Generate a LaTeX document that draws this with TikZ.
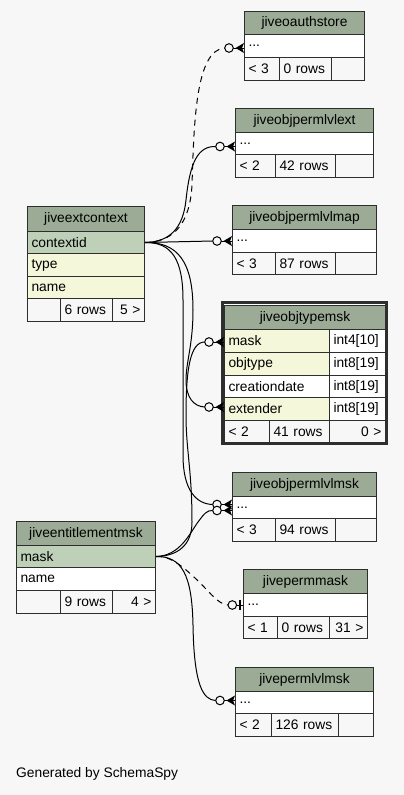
\documentclass[tikz,border=0pt]{standalone}
\usepackage{fontspec}
\setmainfont{Liberation Sans}
\usetikzlibrary{calc}
\definecolor{bgc}{HTML}{F7F7F7}
\definecolor{hd}{HTML}{9BAB96}
\definecolor{pk}{HTML}{BED1B8}
\definecolor{col}{HTML}{F4F7DA}
\definecolor{bd}{HTML}{2E2E2E}
\definecolor{ink}{HTML}{000000}
\tikzset{
  cell/.style={draw=bd, line width=1pt, anchor=north west, inner xsep=4pt, inner ysep=0pt},
  conn/.style={draw=ink, line width=1pt},
  dashconn/.style={conn, dash pattern=on 6pt off 5pt},
}
% name, x1, y1, x2, y2, fill, align, text
\newcommand\tcell[8]{%
  \pgfmathsetmacro\tcW{#4-#2}%
  \pgfmathsetmacro\tcH{#5-#3}%
  \pgfmathsetmacro\tcT{#4-#2-8}%
  \node[cell, fill=#6, minimum width=\tcW pt, minimum height=\tcH pt, text width=\tcT pt, align=#7] (#1) at (#2,#3) {#8};}
% crow foot + circle at table edge point #1
\newcommand\crowend[1]{%
  \fill[ink] ($(#1)+(-8.5,0)$) -- ($(#1)+(0,-5)$) -- ($(#1)+(-2,0)$) -- ($(#1)+(0,5)$) -- cycle;
  \draw[ink, line width=1pt] ($(#1)+(-10.7,0)$) -- (#1);
  \draw[ink, line width=1pt, fill=bgc] ($(#1)+(-15,0)$) circle (4.3pt);}
\newcommand\oneend[1]{%
  \draw[ink, line width=1pt] ($(#1)+(-6.5,0)$) -- (#1);
  \draw[ink, line width=2.2pt] ($(#1)+(-3,-5)$) -- ($(#1)+(-3,5)$);
  \draw[ink, line width=1pt, fill=bgc] ($(#1)+(-10.7,0)$) circle (4.3pt);}
\begin{document}
\begin{tikzpicture}[x=1pt, y=-1pt, font=\fontsize{13.8}{16}\selectfont]
\fill[bgc] (0,0) rectangle (404,795);
\useasboundingbox (0,0) rectangle (404,795);

% jiveoauthstore
\tcell{oa-h}{244}{11}{364}{34}{hd}{center}{jiveoauthstore}
\tcell{oa-r}{244}{34}{364}{57}{white}{left}{...}
\tcell{oa-f1}{244}{57}{279}{80}{bgc}{left}{< 3}
\tcell{oa-f2}{279}{57}{331}{80}{bgc}{left}{0 rows}
\tcell{oa-f3}{331}{57}{364}{80}{bgc}{left}{}

% jiveobjpermlvlext
\tcell{ext-h}{235}{108}{373}{132}{hd}{center}{jiveobjpermlvlext}
\tcell{ext-r}{235}{132}{373}{154}{white}{left}{...}
\tcell{ext-f1}{235}{154}{275}{177}{bgc}{left}{< 2}
\tcell{ext-f2}{275}{154}{335}{177}{bgc}{left}{42 rows}
\tcell{ext-f3}{335}{154}{373}{177}{bgc}{left}{}

% jiveextcontext
\tcell{ctx-h}{27}{206}{144}{231}{hd}{center}{jiveextcontext}
\tcell{ctx-id}{27}{231}{144}{253}{pk}{left}{contextid}
\tcell{ctx-type}{27}{253}{144}{276}{col}{left}{type}
\tcell{ctx-name}{27}{276}{144}{298}{col}{left}{name}
\tcell{ctx-f1}{27}{298}{60}{321}{bgc}{left}{}
\tcell{ctx-f2}{60}{298}{112}{321}{bgc}{left}{6 rows}
\tcell{ctx-f3}{112}{298}{144}{321}{bgc}{right}{5 >}

% jiveobjpermlvlmap
\tcell{map-h}{232}{205}{376}{229}{hd}{center}{jiveobjpermlvlmap}
\tcell{map-r}{232}{229}{376}{252}{white}{left}{...}
\tcell{map-f1}{232}{252}{275}{274}{bgc}{left}{< 3}
\tcell{map-f2}{275}{252}{335}{274}{bgc}{left}{87 rows}
\tcell{map-f3}{335}{252}{376}{274}{bgc}{left}{}

% jiveobjtypemsk
\draw[bd, line width=2.6pt, fill=white] (222.3,302.3) rectangle (386.7,443.7);
\tcell{ts-h}{224}{305}{385}{329}{hd}{center}{jiveobjtypemsk}
\tcell{ts-mask}{224}{329}{329}{352}{col}{left}{mask}
\tcell{ts-mask-t}{329}{329}{385}{352}{white}{left}{int4[10]}
\tcell{ts-obj}{224}{352}{329}{375}{col}{left}{objtype}
\tcell{ts-obj-t}{329}{352}{385}{375}{white}{left}{int8[19]}
\tcell{ts-cd}{224}{375}{329}{397}{white}{left}{creationdate}
\tcell{ts-cd-t}{329}{375}{385}{397}{white}{left}{int8[19]}
\tcell{ts-ext}{224}{397}{329}{420}{col}{left}{extender}
\tcell{ts-ext-t}{329}{397}{385}{420}{white}{left}{int8[19]}
\tcell{ts-f1}{224}{420}{269}{442}{bgc}{left}{< 2}
\tcell{ts-f2}{269}{420}{329}{442}{bgc}{left}{41 rows}
\tcell{ts-f3}{329}{420}{385}{442}{bgc}{right}{0 >}

% jiveobjpermlvlmsk
\tcell{pms-h}{232}{472}{376}{496}{hd}{center}{jiveobjpermlvlmsk}
\tcell{pms-r}{232}{496}{376}{518}{white}{left}{...}
\tcell{pms-f1}{232}{518}{275}{541}{bgc}{left}{< 3}
\tcell{pms-f2}{275}{518}{335}{541}{bgc}{left}{94 rows}
\tcell{pms-f3}{335}{518}{376}{541}{bgc}{left}{}

% jiveentitlementmsk
\tcell{ent-h}{16}{521}{155}{545}{hd}{center}{jiveentitlementmsk}
\tcell{ent-mask}{16}{545}{155}{567}{pk}{left}{mask}
\tcell{ent-name}{16}{567}{155}{590}{white}{left}{name}
\tcell{ent-f1}{16}{590}{60}{613}{bgc}{left}{}
\tcell{ent-f2}{60}{590}{112}{613}{bgc}{left}{9 rows}
\tcell{ent-f3}{112}{590}{155}{613}{bgc}{right}{4 >}

% jivepermmask
\tcell{pm-h}{243}{569}{367}{593}{hd}{center}{jivepermmask}
\tcell{pm-r}{243}{593}{367}{616}{white}{left}{...}
\tcell{pm-f1}{243}{616}{277}{638}{bgc}{left}{< 1}
\tcell{pm-f2}{277}{616}{329}{638}{bgc}{left}{0 rows}
\tcell{pm-f3}{329}{616}{367}{638}{bgc}{right}{31 >}

% jivepermlvlmsk
\tcell{plm-h}{235}{667}{373}{691}{hd}{center}{jivepermlvlmsk}
\tcell{plm-r}{235}{691}{373}{713}{white}{left}{...}
\tcell{plm-f1}{235}{713}{271}{736}{bgc}{left}{< 2}
\tcell{plm-f2}{271}{713}{338}{736}{bgc}{left}{126 rows}
\tcell{plm-f3}{338}{713}{373}{736}{bgc}{left}{}

\node[anchor=base west, inner sep=0pt] (credit) at (16,777) {Generated by SchemaSpy};

% attachment points on table edges
\coordinate (oa-e) at ($(oa-r.west)+(0,2)$);
\coordinate (ext-e) at ($(ext-r.west)+(0,3)$);
\coordinate (map-e) at (map-r.west);
\coordinate (tsm-e) at ($(ts-mask.west)+(0,1)$);
\coordinate (tse-e) at ($(ts-ext.west)+(0,-2)$);
\coordinate (pmsa-e) at ($(pms-r.west)+(0,-3)$);
\coordinate (pmsb-e) at ($(pms-r.west)+(0,3)$);
\coordinate (pm-e) at (pm-r.west);
\coordinate (plm-e) at ($(plm-r.west)+(0,-2)$);
% connector ends (outer side of the circles)
\coordinate (oa-in) at ($(oa-e)+(-19.3,0)$);
\coordinate (ext-in) at ($(ext-e)+(-19.3,0)$);
\coordinate (map-in) at ($(map-e)+(-19.3,0)$);
\coordinate (tsm-in) at ($(tsm-e)+(-19.3,0)$);
\coordinate (tse-in) at ($(tse-e)+(-19.3,0)$);
\coordinate (pmsa-in) at ($(pmsa-e)+(-19.3,0)$);
\coordinate (pmsb-in) at ($(pmsb-e)+(-19.3,0)$);
\coordinate (pm-in) at ($(pm-e)+(-15,0)$);
\coordinate (plm-in) at ($(plm-e)+(-19.3,0)$);

% connectors from jiveextcontext.contextid
\draw[dashconn] (ctx-id.east) .. controls (175,242) and (190,222) .. (192,185) .. controls (194,120) and (196,50) .. (oa-in);
\draw[conn] (ctx-id.east) .. controls (170,242) and (183,228) .. (186,200) .. controls (190,162) and (198,146) .. (ext-in);
\draw[conn] (ctx-id.east) -- (map-in);
\draw[conn] (ctx-id.east) .. controls (178,242) and (193,262) .. (193,310) .. controls (193,345) and (186,362) .. (186,380) .. controls (186,398) and (194,406.5) .. (tse-in);
\draw[conn] (ctx-id.east) .. controls (172,242) and (183,260) .. (183,300) -- (183,455) .. controls (183,490) and (196,504) .. (pmsa-in);

% connectors from jiveentitlementmsk.mask
\draw[conn] (ent-mask.east) .. controls (178,556) and (192,545) .. (192,522) .. controls (192,470) and (186,450) .. (186,415) .. controls (186,370) and (190,342) .. (tsm-in);
\draw[conn] (ent-mask.east) .. controls (180,556) and (190,533) .. (198,522) .. controls (204,514) and (207,510) .. (pmsb-in);
\draw[dashconn] (ent-mask.east) .. controls (168,556) and (178,562) .. (195,578) .. controls (210,592) and (218,604.5) .. (pm-in);
\draw[conn] (ent-mask.east) .. controls (182,556) and (192,575) .. (193,625) .. controls (194,685) and (203,700) .. (plm-in);

% ends
\crowend{oa-e}
\crowend{ext-e}
\crowend{map-e}
\crowend{tsm-e}
\crowend{tse-e}
\crowend{pmsa-e}
\crowend{pmsb-e}
\oneend{pm-e}
\crowend{plm-e}
\end{tikzpicture}
\end{document}
